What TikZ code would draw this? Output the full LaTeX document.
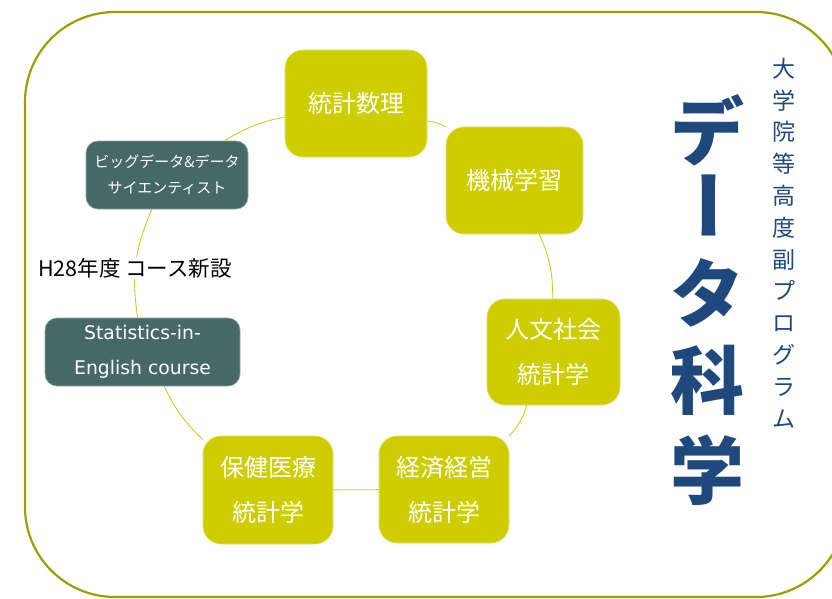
\documentclass[tikz,border=0pt]{standalone}
\usepackage{fontspec}
\setmainfont{Noto Sans CJK JP}
\newfontfamily\lat{DejaVu Sans}
\definecolor{bordercol}{RGB}{158,158,0}
\definecolor{boxyellow}{RGB}{205,205,0}
\definecolor{boxteal}{RGB}{70,105,103}
\definecolor{arccol}{RGB}{205,205,40}
\definecolor{titleblue}{RGB}{31,73,125}
\tikzset{
  ybox/.style={fill=boxyellow, draw=boxyellow!60!white, line width=0.6pt, rounded corners=18pt, text=white, align=center, inner sep=0pt, font=\fontsize{24}{45}\selectfont},
  tbox/.style={fill=boxteal, draw=boxteal!60!white, line width=0.6pt, rounded corners=12pt, text=white, align=center, inner sep=0pt},
  link/.style={draw=arccol, line width=0.9pt},
  bigchar/.style={text=titleblue, inner sep=0pt, font=\fontsize{74}{74}\selectfont\bfseries},
}
\begin{document}
\begin{tikzpicture}[x=1pt,y=-1pt]
\useasboundingbox (0,0) rectangle (832,599);
\draw[bordercol, line width=2.2pt, rounded corners=90pt] (25,12) rectangle (846,597);

\node[ybox, minimum width=142pt, minimum height=107pt] (T) at (356,103.5) {統計数理};
\node[ybox, minimum width=137pt, minimum height=107pt] (K) at (514.5,180.5) {機械学習};
\node[ybox, minimum width=133pt, minimum height=106pt] (J) at (553.5,352) {人文社会\\統計学};
\node[ybox, minimum width=130pt, minimum height=107pt] (E) at (444,489.5) {経済経営\\統計学};
\node[ybox, minimum width=130pt, minimum height=108pt] (H) at (268,490) {保健医療\\統計学};
\node[tbox, minimum width=195pt, minimum height=68pt, font=\lat\fontsize{18.8}{35}\selectfont] (S) at (142.5,352) {Statistics-in-\\English course};
\node[tbox, minimum width=162pt, minimum height=68pt, font=\fontsize{15}{26}\selectfont] (B) at (167,175) {ビッグデータ\&データ\\サイエンティスト};

\draw[link] (T) to[bend left=12] (K);
\draw[link] (K) to[bend left=12] (J);
\draw[link] (J) to[bend left=12] (E);
\draw[link] (E) to (H);
\draw[link] (H) to[bend left=10] (S);
\draw[link] (S) to[bend left=16] (B);
\draw[link] (B) to[bend left=10] (T);

\node[fill=white, inner sep=1pt, font=\fontsize{21.5}{24}\selectfont] (N) at (135,268) {H28年度 コース新設};

\node[bigchar] (c1) at (707,130) {デ};
\node[bigchar] (c2) at (698,205) {\rotatebox[origin=c]{-90}{ー}};
\node[bigchar] (c3) at (707,293) {タ};
\node[bigchar] (c4) at (707,380) {科};
\node[bigchar] (c5) at (707,470) {学};

\node[text=titleblue, align=center, inner sep=0pt, font=\fontsize{23}{31.8}\selectfont] (sub) at (784,243) {大\\学\\院\\等\\高\\度\\副\\プ\\ロ\\グ\\ラ\\ム};
\end{tikzpicture}
\end{document}
